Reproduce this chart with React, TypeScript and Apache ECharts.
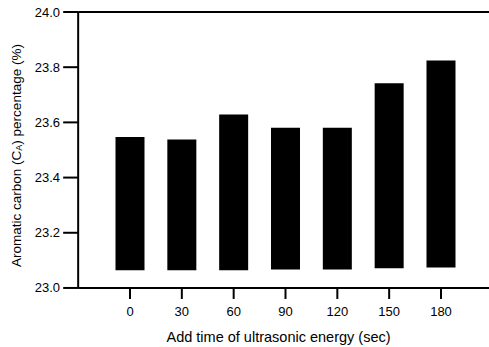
import React, { useEffect, useRef } from "react";
import * as echarts from "echarts";

const times = [0, 30, 60, 90, 120, 150, 180];
const aromaticPct = [23.547, 23.538, 23.629, 23.581, 23.581, 23.742, 23.824];
const barBase = [23.064, 23.064, 23.064, 23.067, 23.067, 23.071, 23.074];
const yTicks = [23.0, 23.2, 23.4, 23.6, 23.8, 24.0];

const FONT = "Liberation Sans";
const BAR_W = 29;
// frame of the plot (data units)
const FRAME_X = [-30, 210];
const FRAME_Y = [23.0, 24.0];
// extended scale range so that the outside tick marks lie inside the grid
const X_RANGE = [-38.2, 210.1];
const Y_RANGE = [22.96, 24.0];

export default function App() {
  const ref = useRef<HTMLDivElement>(null);
  useEffect(() => {
    if (!ref.current) return;
    const chart = echarts.init(ref.current, undefined, { renderer: "svg" });
    const seg = (a: number[], b: number[]) => ({
      type: "line",
      shape: { x1: a[0], y1: a[1], x2: b[0], y2: b[1] },
      style: { stroke: "#000", lineWidth: 2 },
    });
    chart.setOption({
      animation: false,
      backgroundColor: "#fff",
      grid: { left: 64, top: 12, right: -4, bottom: 48, containLabel: false, outerBoundsMode: "none" },
      xAxis: {
        type: "value",
        min: X_RANGE[0],
        max: X_RANGE[1],
        name: "Add time of ultrasonic energy (sec)",
        nameLocation: "middle",
        nameGap: 30,
        nameTextStyle: { fontFamily: FONT, fontSize: 14.5, color: "#000" },
        axisLine: { show: false, onZero: false },
        axisTick: { show: false },
        axisLabel: { fontFamily: FONT, fontSize: 13, color: "#000", margin: 6, customValues: times },
        splitLine: { show: false },
      },
      yAxis: {
        type: "value",
        min: Y_RANGE[0],
        max: Y_RANGE[1],
        name: "Aromatic carbon (C{sub|A}) percentage (%)",
        nameLocation: "middle",
        nameGap: 39,
        nameRotate: 90,
        nameTextStyle: {
          fontFamily: FONT,
          fontSize: 13.5,
          color: "#000",
          rich: { sub: { fontFamily: FONT, fontSize: 9, color: "#000", verticalAlign: "bottom", padding: [6, 0, 0, 0] } },
        },
        axisLine: { show: false, onZero: false },
        axisTick: { show: false },
        axisLabel: {
          fontFamily: FONT,
          fontSize: 13,
          color: "#000",
          margin: 4,
          customValues: yTicks,
          formatter: (v: number) => v.toFixed(1),
        },
        splitLine: { show: false },
      },
      series: [
        {
          type: "custom",
          data: times.map((t, i) => [t, barBase[i], aromaticPct[i]]),
          encode: { x: 0, y: [1, 2] },
          renderItem: (params: any, api: any) => {
            const x = api.value(0);
            const p0 = api.coord([x, api.value(1)]);
            const p1 = api.coord([x, api.value(2)]);
            return {
              type: "rect",
              shape: { x: p1[0] - BAR_W / 2, y: p1[1], width: BAR_W, height: p0[1] - p1[1] },
              style: { fill: "#000" },
            };
          },
        },
        {
          // plot frame (left axis, bottom axis, top line) and outside tick marks
          type: "custom",
          clip: false,
          silent: true,
          data: [[FRAME_X[0], FRAME_X[1], FRAME_Y[0], FRAME_Y[1]]],
          encode: { x: [0, 1], y: [2, 3] },
          renderItem: (params: any, api: any) => {
            const x0 = api.value(0);
            const x1 = api.value(1);
            const y0 = api.value(2);
            const y1 = api.value(3);
            const ll = api.coord([x0, y0]);
            const lr = api.coord([x1, y0]);
            const ul = api.coord([x0, y1]);
            const ur = api.coord([x1, y1]);
            const children: any[] = [seg(ll, ul), seg(ll, lr), seg(ul, ur)];
            times.forEach((t) => {
              const p = api.coord([t, y0]);
              children.push(seg([p[0], p[1]], [p[0], p[1] + 11]));
            });
            yTicks.forEach((v) => {
              const p = api.coord([x0, v]);
              children.push(seg([p[0] - 15, p[1]], [p[0], p[1]]));
            });
            return { type: "group", children };
          },
        },
      ],
    });
    return () => chart.dispose();
  }, []);
  return <div ref={ref} style={{ position: "fixed", left: 0, top: 0, width: 489, height: 347 }} />;
}
